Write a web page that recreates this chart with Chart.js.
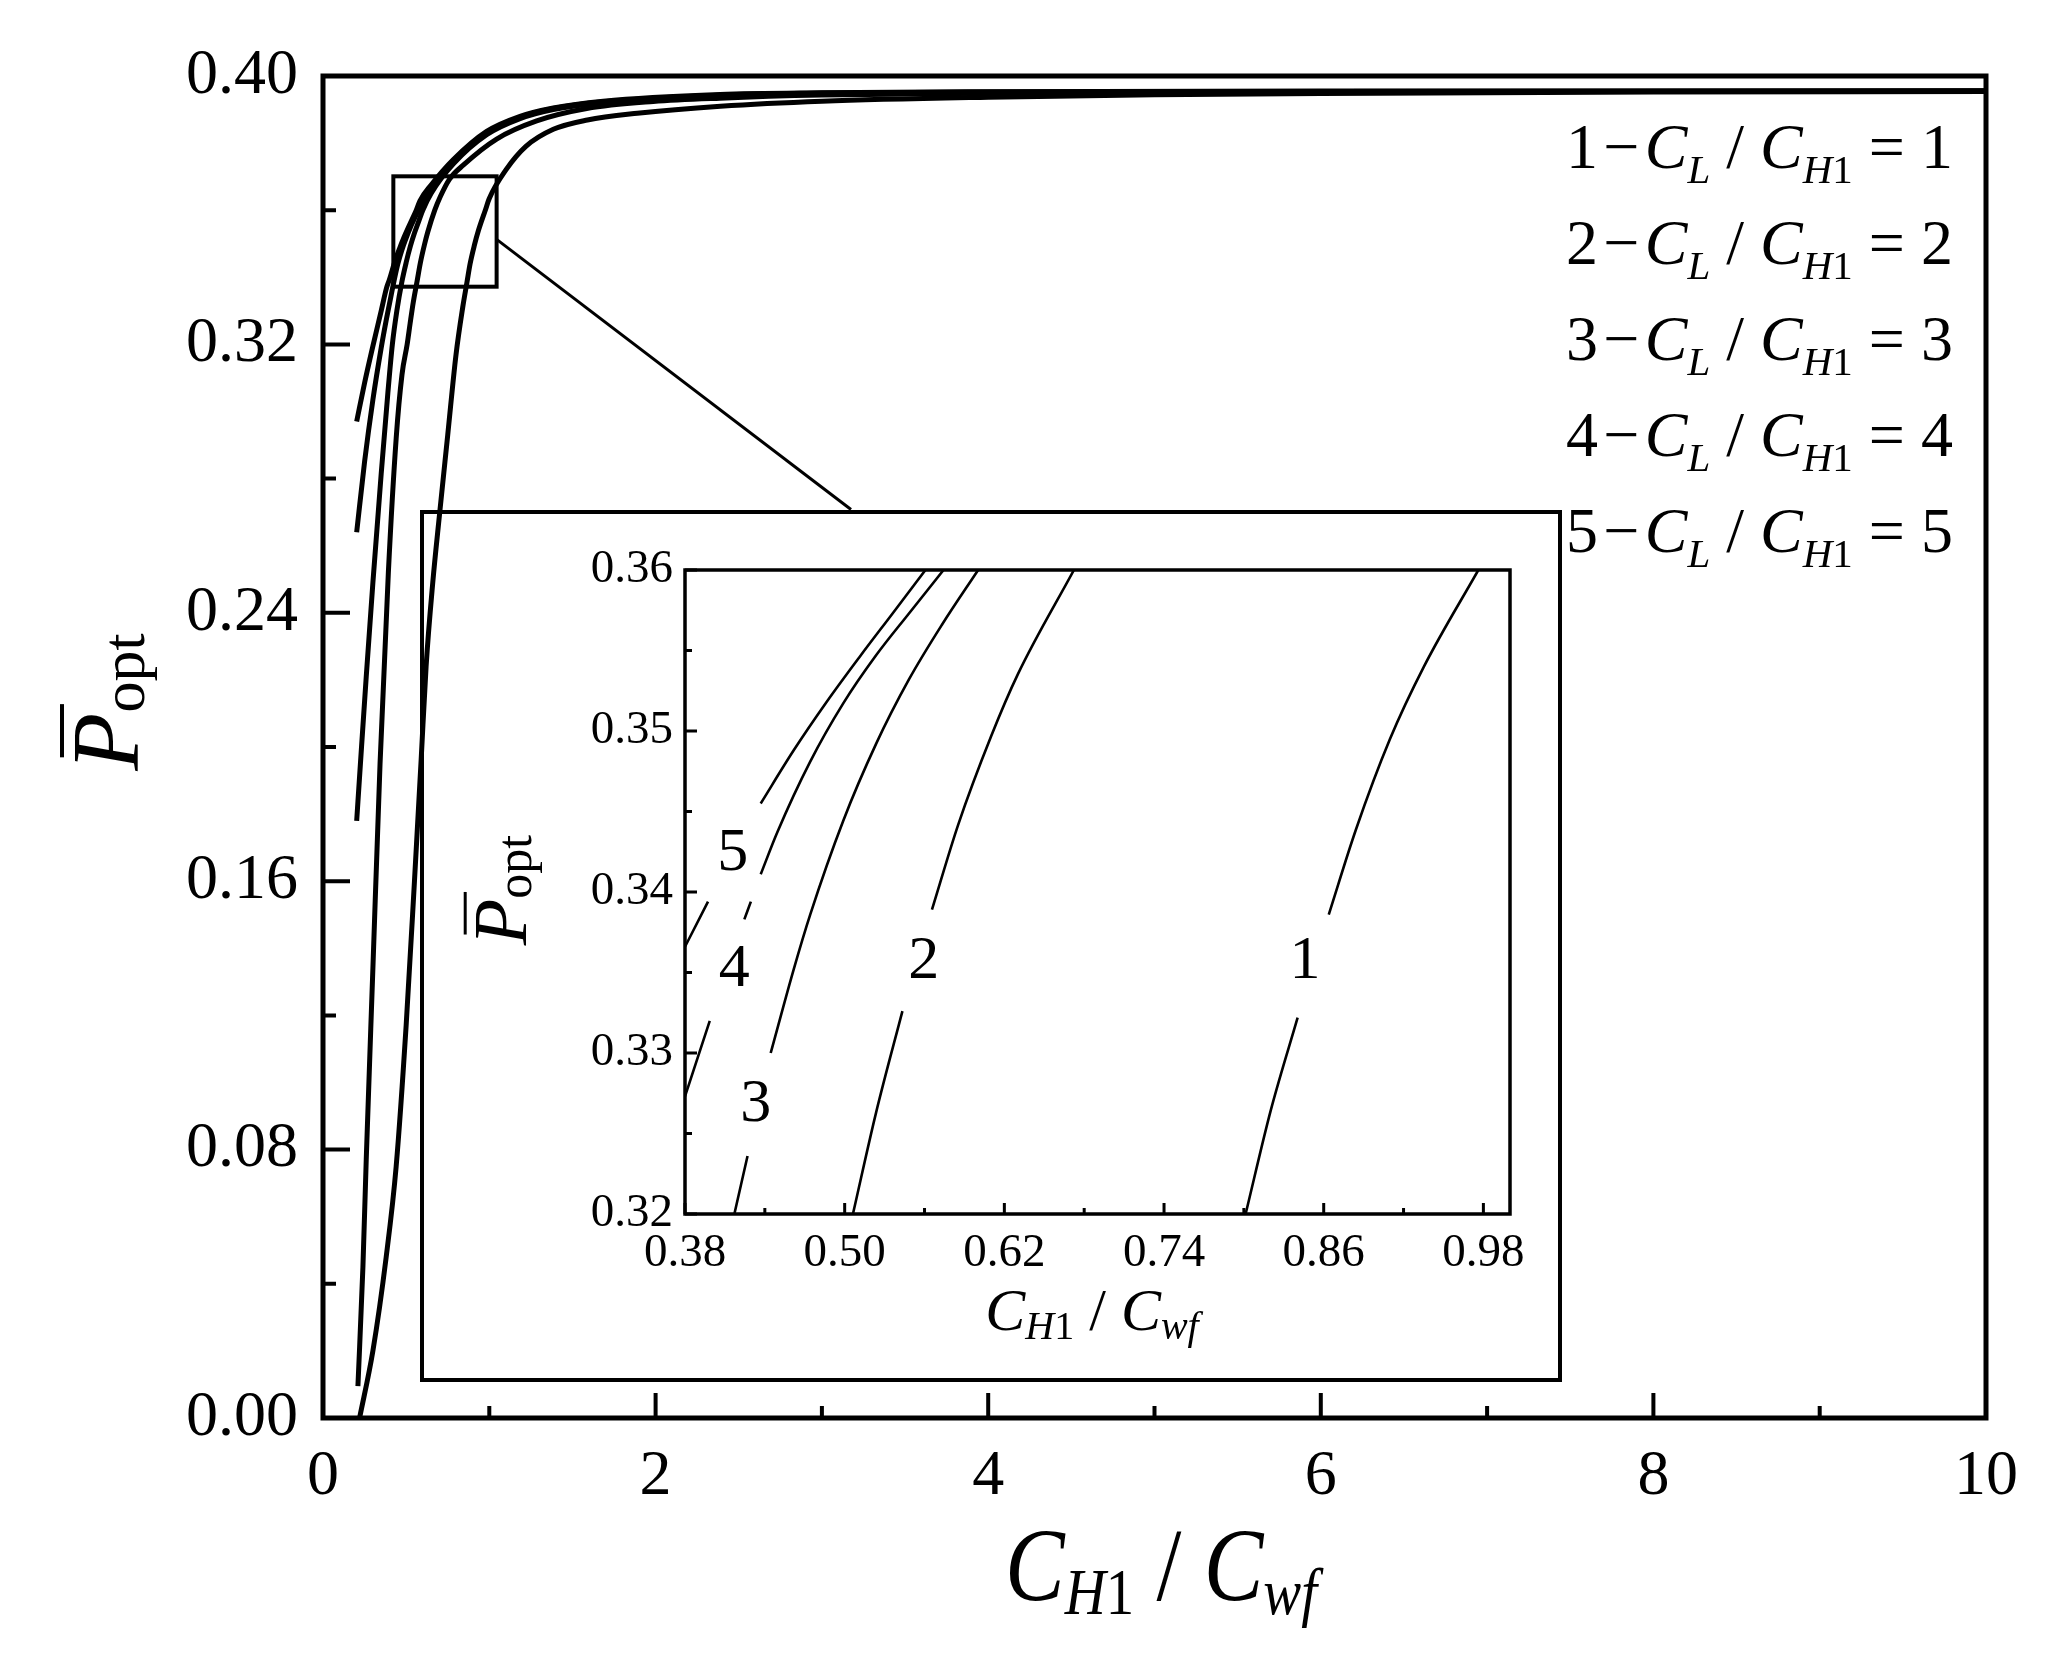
<!DOCTYPE html>
<html>
<head>
<meta charset="utf-8">
<title>P_opt vs C_H1 / C_wf</title>
<script src="https://cdn.jsdelivr.net/npm/chart.js@4.4.1/dist/chart.umd.min.js"></script>
<style>
  html, body { margin: 0; padding: 0; background: #fff; }
  #wrap { position: relative; width: 2069px; height: 1679px; }
  #mainChart { position: absolute; left: 0; top: 0; }
  #insetChart { position: absolute; left: 420px; top: 510px; }
</style>
</head>
<body>
<div id="wrap">
  <canvas id="mainChart" width="2069" height="1679"></canvas>
  <canvas id="insetChart" width="1142" height="872"></canvas>
</div>
<script>
// === values ===
const ratios = [1, 2, 3, 4, 5];   // C_L / C_H1 of curves 1..5

// main plot, one x/y pair per curve
const curve1X = [0.22, 0.30, 0.38, 0.44, 0.50, 0.55, 0.59, 0.62, 0.66, 0.70, 0.75, 0.80, 0.84, 0.866, 0.884, 0.91, 0.935, 0.976, 1.00, 1.10, 1.22, 1.385, 1.59, 1.89, 2.39, 3, 4, 5, 6, 8, 10];
const curve1Y = [0.000, 0.020, 0.048, 0.075, 0.117, 0.160, 0.196, 0.224, 0.249, 0.269, 0.293, 0.317, 0.331, 0.3386, 0.3439, 0.3495, 0.3540, 0.3600, 0.3635, 0.3720, 0.3790, 0.3841, 0.3869, 0.3889, 0.3910, 0.3925, 0.3937, 0.3944, 0.3948, 0.3952, 0.3954];
const curve2X = [0.21, 0.24, 0.26, 0.30, 0.343, 0.393, 0.44, 0.475, 0.506, 0.524, 0.543, 0.566, 0.585, 0.61, 0.63, 0.672, 0.705, 0.76, 0.845, 1.044, 1.285, 1.586, 1.986, 2.387, 3, 4, 6, 10];
const curve2Y = [0.0095, 0.045, 0.077, 0.134, 0.195, 0.252, 0.292, 0.311, 0.320, 0.3263, 0.3326, 0.3389, 0.3442, 0.3497, 0.3535, 0.3600, 0.3640, 0.3692, 0.3735, 0.3812, 0.3866, 0.3903, 0.3924, 0.3934, 0.3943, 0.3949, 0.3953, 0.3955];
const curve3X = [0.2025, 0.225, 0.26, 0.30, 0.35, 0.39, 0.417, 0.444, 0.474, 0.50, 0.525, 0.55, 0.575, 0.60, 0.65, 0.784, 0.984, 1.185, 1.385, 1.685, 2.387, 3, 4, 6, 10];
const curve3Y = [0.178, 0.195, 0.221, 0.249, 0.2815, 0.3055, 0.3200, 0.3300, 0.3386, 0.3444, 0.3492, 0.3532, 0.3566, 0.3600, 0.3650, 0.3738, 0.3825, 0.3873, 0.3900, 0.3920, 0.3940, 0.3947, 0.3951, 0.3954, 0.3955];
const curve4X = [0.2025, 0.25, 0.30, 0.35, 0.38, 0.40, 0.427, 0.45, 0.474, 0.50, 0.524, 0.548, 0.574, 0.65, 0.784, 0.984, 1.185, 1.385, 1.685, 2.387, 3, 4, 6, 10];
const curve4Y = [0.264, 0.285, 0.3035, 0.319, 0.3272, 0.3322, 0.3389, 0.3440, 0.3481, 0.3517, 0.3547, 0.3573, 0.3600, 0.3668, 0.3746, 0.3831, 0.3877, 0.3903, 0.3923, 0.3943, 0.3949, 0.3952, 0.3954, 0.3955];
const curve5X = [0.2025, 0.25, 0.30, 0.35, 0.3825, 0.40, 0.437, 0.462, 0.486, 0.511, 0.536, 0.561, 0.583, 0.65, 0.784, 0.984, 1.185, 1.385, 1.685, 2.387, 3, 4, 6, 10];
const curve5Y = [0.297, 0.3085, 0.3195, 0.3300, 0.3369, 0.3394, 0.3455, 0.3488, 0.3518, 0.3546, 0.3573, 0.3600, 0.3628, 0.3675, 0.3751, 0.3835, 0.3880, 0.3905, 0.3925, 0.3945, 0.3950, 0.3953, 0.3955, 0.3955];

// inset (zoomed) curves, null = break in the line where the number label sits
const inset1X = [0.8013, 0.8204, 0.8404, 0.852, 0.8638, 0.8843, 0.9098, 0.9353, 0.9762];
const inset1Y = [0.3200, 0.3265, 0.3322, null, 0.3386, 0.3439, 0.3495, 0.3540, 0.3600];
const inset2X = [0.5062, 0.5236, 0.5434, 0.5545, 0.5656, 0.5854, 0.6102, 0.6300, 0.6723];
const inset2Y = [0.3200, 0.3263, 0.3326, null, 0.3389, 0.3442, 0.3497, 0.3535, 0.3600];
const inset3X = [0.4171, 0.4270, 0.4357, 0.4444, 0.4617, 0.4741, 0.4988, 0.5236, 0.5483, 0.5731, 0.6003];
const inset3Y = [0.3200, 0.3236, null, 0.3300, 0.3352, 0.3386, 0.3444, 0.3492, 0.3532, 0.3566, 0.3600];
const inset4X = [0.3800, 0.3986, 0.4116, 0.4246, 0.4295, 0.4332, 0.4369, 0.4493, 0.4741, 0.4988, 0.5236, 0.5483, 0.5743];
const inset4Y = [0.3273, 0.3320, null, 0.3383, 0.3394, null, 0.3411, 0.3437, 0.3481, 0.3517, 0.3547, 0.3573, 0.3600];
const inset5X = [0.3800, 0.3973, 0.4171, 0.4369, 0.4617, 0.4864, 0.5112, 0.5360, 0.5607];
const inset5Y = [0.3366, 0.3394, null, 0.3455, 0.3488, 0.3518, 0.3546, 0.3573, 0.3600];

// where the curve numbers sit inside the inset (data units)
const insetLabelX = [0.846, 0.5595, 0.4332, 0.4171, 0.4159];
const insetLabelY = [0.3357, 0.3357, 0.3268, 0.3352, 0.3424];

// tick labels
const mainXTicks = [0, 2, 4, 6, 8, 10];
const mainYTicks = [0, 0.08, 0.16, 0.24, 0.32, 0.40];
const insetXTicks = [0.38, 0.50, 0.62, 0.74, 0.86, 0.98];
const insetYTicks = [0.32, 0.33, 0.34, 0.35, 0.36];

// zoom window drawn on the main plot + leader line to the inset
const zoomBoxX = [0.423, 1.044];
const zoomBoxY = [0.3372, 0.3701];
const leaderX = [1.044, 3.175];
const leaderY = [0.3513, 0.2708];

const SERIF = "'Liberation Serif', 'Times New Roman', Times, serif";

function pts(xs, ys) { return xs.map((x, i) => ({ x: x, y: ys[i] })); }
function mids(list) {
  const out = [];
  for (let i = 1; i < list.length; i++) out.push((list[i - 1] + list[i]) / 2);
  return out;
}
function curve(xs, ys, width) {
  return {
    data: pts(xs, ys),
    borderColor: '#000',
    borderWidth: width,
    pointRadius: 0,
    pointHoverRadius: 0,
    fill: false,
    spanGaps: false,
    cubicInterpolationMode: 'monotone'
  };
}
function fontOf(p) { return (p.i ? 'italic ' : '') + p.s + 'px ' + SERIF; }

// text with subscript runs, optional rotation / horizontal squeeze / overbar
function rich(ctx, parts, x, y, o) {
  o = o || {};
  let w = 0;
  parts.forEach(p => { ctx.font = fontOf(p); p.w = ctx.measureText(p.t).width; w += p.w; });
  ctx.save();
  ctx.translate(x, y);
  if (o.rot) ctx.rotate(o.rot);
  if (o.sx) ctx.scale(o.sx, 1);
  ctx.fillStyle = '#000';
  ctx.strokeStyle = '#000';
  ctx.textBaseline = 'alphabetic';
  ctx.textAlign = 'left';
  let cx = o.align === 'left' ? 0 : -w / 2;
  parts.forEach(p => {
    ctx.font = fontOf(p);
    p.x0 = cx;
    ctx.fillText(p.t, cx, p.dy || 0);
    cx += p.w;
  });
  if (o.bar) {
    const p = parts[0];
    ctx.lineWidth = o.bar.w;
    ctx.beginPath();
    ctx.moveTo(p.x0 + o.bar.a * p.s, -o.bar.h * p.s);
    ctx.lineTo(p.x0 + o.bar.b * p.s, -o.bar.h * p.s);
    ctx.stroke();
  }
  ctx.restore();
}

function ratioTitle(big, small, drop) {
  return [
    { t: 'C', s: big, i: true },
    { t: 'H', s: small, i: true, dy: drop },
    { t: '1', s: small, dy: drop },
    { t: ' / ', s: big },
    { t: 'C', s: big, i: true },
    { t: 'wf', s: small, i: true, dy: drop }
  ];
}
function powerTitle(big, small, drop) {
  return [
    { t: 'P', s: big, i: true },
    { t: 'opt', s: small, dy: drop }
  ];
}
function legendLine(r) {
  return [
    { t: String(r), s: 64 },
    { t: '\u200A\u2212\u200A', s: 64 },
    { t: 'C', s: 64, i: true },
    { t: 'L', s: 41, i: true, dy: 15 },
    { t: ' / ', s: 64 },
    { t: 'C', s: 64, i: true },
    { t: 'H', s: 41, i: true, dy: 15 },
    { t: '1', s: 41, dy: 15 },
    { t: ' = ', s: 64 },
    { t: String(r), s: 64 }
  ];
}

// inward ticks on bottom and left, then the closed frame
function frameAndTicks(ctx, a, x, y, xt, yt, t) {
  ctx.save();
  ctx.strokeStyle = '#000';
  ctx.lineWidth = t.tickW;
  ctx.beginPath();
  xt.forEach(v => { const p = x.getPixelForValue(v); ctx.moveTo(p, a.bottom); ctx.lineTo(p, a.bottom - t.xMaj); });
  mids(xt).forEach(v => { const p = x.getPixelForValue(v); ctx.moveTo(p, a.bottom); ctx.lineTo(p, a.bottom - t.xMin); });
  yt.forEach(v => { const p = y.getPixelForValue(v); ctx.moveTo(a.left, p); ctx.lineTo(a.left + t.yMaj, p); });
  mids(yt).forEach(v => { const p = y.getPixelForValue(v); ctx.moveTo(a.left, p); ctx.lineTo(a.left + t.yMin, p); });
  ctx.stroke();
  ctx.lineWidth = t.frameW;
  ctx.strokeRect(a.left, a.top, a.right - a.left, a.bottom - a.top);
  ctx.restore();
}

const mainDecor = {
  id: 'mainDecor',
  afterDraw(chart) {
    const { ctx, chartArea: a, scales: { x, y } } = chart;
    frameAndTicks(ctx, a, x, y, mainXTicks, mainYTicks,
      { tickW: 4, xMaj: 25, xMin: 12, yMaj: 27, yMin: 13, frameW: 5 });

    ctx.save();
    ctx.strokeStyle = '#000';
    ctx.lineWidth = 4;
    const bx0 = x.getPixelForValue(zoomBoxX[0]), bx1 = x.getPixelForValue(zoomBoxX[1]);
    const by0 = y.getPixelForValue(zoomBoxY[1]), by1 = y.getPixelForValue(zoomBoxY[0]);
    ctx.strokeRect(bx0, by0, bx1 - bx0, by1 - by0);
    ctx.lineWidth = 3;
    ctx.beginPath();
    ctx.moveTo(x.getPixelForValue(leaderX[0]), y.getPixelForValue(leaderY[0]));
    ctx.lineTo(x.getPixelForValue(leaderX[1]), y.getPixelForValue(leaderY[1]));
    ctx.stroke();
    ctx.restore();

    ratios.forEach((r, k) => rich(ctx, legendLine(r), 1566, 168 + 96 * k, { align: 'left' }));

    rich(ctx, ratioTitle(104, 66, 14), 1161, 1600, { sx: 0.86 });
    rich(ctx, powerTitle(95, 62, 6), 138, 702,
      { rot: -Math.PI / 2, bar: { a: 0.14, b: 0.7, h: 0.8, w: 4 } });
  }
};

const insetDecor = {
  id: 'insetDecor',
  afterDraw(chart) {
    const { ctx, chartArea: a, scales: { x, y } } = chart;
    ctx.save();
    ctx.strokeStyle = '#000';
    ctx.lineWidth = 4;
    ctx.strokeRect(2, 2, chart.width - 4, chart.height - 4);
    ctx.restore();

    frameAndTicks(ctx, a, x, y, insetXTicks, insetYTicks,
      { tickW: 3, xMaj: 11, xMin: 6, yMaj: 12, yMin: 7, frameW: 3.5 });

    ctx.save();
    ctx.fillStyle = '#000';
    ctx.font = '62px ' + SERIF;
    ctx.textAlign = 'center';
    ctx.textBaseline = 'middle';
    ratios.forEach((r, k) => {
      ctx.fillText(String(r), x.getPixelForValue(insetLabelX[k]), y.getPixelForValue(insetLabelY[k]));
    });
    ctx.restore();

    rich(ctx, ratioTitle(60, 40, 9), 672, 820);
    rich(ctx, powerTitle(76, 50, 5), 106, 380,
      { rot: -Math.PI / 2, bar: { a: 0.14, b: 0.7, h: 0.8, w: 3 } });
  }
};

function axis(min, max, list, fmt, size, pad, fit) {
  return {
    type: 'linear',
    min: min,
    max: max,
    afterBuildTicks: s => { s.ticks = list.map(v => ({ value: v })); },
    afterFit: fit,
    grid: { display: false, drawTicks: false },
    border: { display: false },
    ticks: {
      color: '#000',
      font: { family: SERIF, size: size },
      padding: pad,
      autoSkip: false,
      maxRotation: 0,
      callback: fmt
    }
  };
}

new Chart(document.getElementById('mainChart'), {
  type: 'line',
  data: {
    datasets: [
      curve(curve1X, curve1Y, 5),
      curve(curve2X, curve2Y, 5),
      curve(curve3X, curve3Y, 5),
      curve(curve4X, curve4Y, 5),
      curve(curve5X, curve5Y, 5)
    ]
  },
  options: {
    responsive: false,
    animation: false,
    devicePixelRatio: 1,
    events: [],
    layout: { padding: { top: 76, right: 83, left: 0, bottom: 0 } },
    plugins: { legend: { display: false }, tooltip: { enabled: false } },
    scales: {
      x: axis(0, 10, mainXTicks, v => String(v), 64, 21, s => { s.height = 261; }),
      y: axis(0, 0.40, mainYTicks, v => v.toFixed(2), 64, 25, s => { s.width = 323; })
    }
  },
  plugins: [mainDecor]
});

new Chart(document.getElementById('insetChart'), {
  type: 'line',
  data: {
    datasets: [
      curve(inset1X, inset1Y, 2.6),
      curve(inset2X, inset2Y, 2.6),
      curve(inset3X, inset3Y, 2.6),
      curve(inset4X, inset4Y, 2.6),
      curve(inset5X, inset5Y, 2.6)
    ]
  },
  options: {
    responsive: false,
    animation: false,
    devicePixelRatio: 1,
    events: [],
    layout: { padding: { top: 60, right: 52, left: 0, bottom: 0 } },
    plugins: { legend: { display: false }, tooltip: { enabled: false } },
    scales: {
      x: axis(0.38, 1.0, insetXTicks, v => v.toFixed(2), 47, 11, s => { s.height = 168; }),
      y: axis(0.32, 0.36, insetYTicks, v => v.toFixed(2), 47, 12, s => { s.width = 265; })
    }
  },
  plugins: [insetDecor]
});
</script>
</body>
</html>
